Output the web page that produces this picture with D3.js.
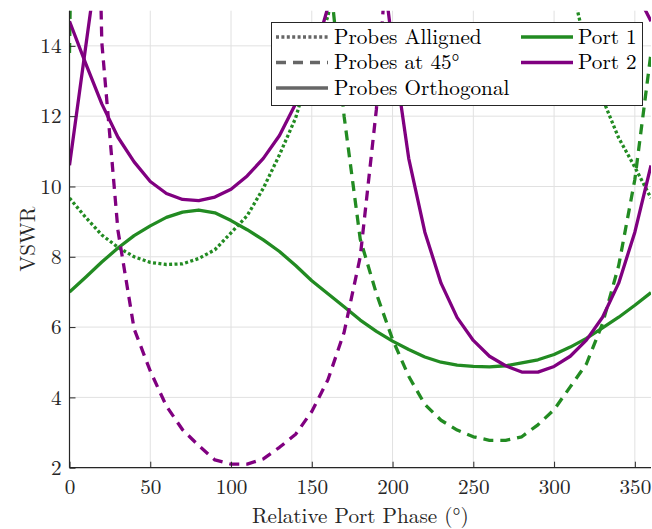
<!DOCTYPE html>
<html><head><meta charset="utf-8">
<script src="https://cdn.jsdelivr.net/npm/d3@7"></script>
<style>body{margin:0;background:#fff;}</style>
</head>
<body><svg id="c" width="652" height="529"></svg>
<script>
// ---------- data ----------
const phase = [0,10,20,30,40,50,60,70,80,90,100,110,120,130,140,150,160,170,180,190,200,210,220,230,240,250,260,270,280,290,300,310,320,330,340,350,360];
// Port 1
const port1Aligned = [9.67,9.12,8.62,8.27,8.0,7.84,7.78,7.8,7.95,8.2,8.68,9.17,9.95,10.9,11.95,13.5,14.85,17.0,19.5,23,26,28,29,29,28,26,24,22,20,18.5,17.2,15.9,13.9,12.5,11.38,10.55,9.67];
const port1At45 = [13.8,45,60,70,75,78,80,80,78,75,70,62,55,45,35,25,16.5,12.0,8.5,6.95,5.65,4.6,3.8,3.35,3.07,2.88,2.78,2.78,2.88,3.22,3.65,4.3,4.95,6.1,7.75,10.2,13.8];
const port1Ortho = [7.0,7.42,7.85,8.25,8.6,8.88,9.12,9.27,9.33,9.25,9.03,8.77,8.48,8.15,7.75,7.32,6.95,6.58,6.2,5.88,5.6,5.36,5.15,5.0,4.92,4.88,4.87,4.9,4.98,5.07,5.22,5.43,5.68,5.98,6.28,6.62,6.98];
// Port 2
const port2At45 = [60,35,14.1,8.75,5.95,4.75,3.75,3.08,2.63,2.22,2.1,2.1,2.25,2.58,2.95,3.6,4.5,5.85,8.0,12.2,19,30,40,50,55,60,62,64,65,66,66,65,64,63,62,61,60];
const port2OrthoA = [14.7,13.5,12.35,11.4,10.7,10.14,9.8,9.63,9.6,9.7,9.92,10.3,10.8,11.45,12.35,13.5,15.1,17,19,21,23,25,26,27,27,27,26,25,24,23,22,21,20,19,17,15.6,14.7];
const port2OrthoB = [10.6,13.97,17.3,21,24,27,29,30,31,31,30,29,28,27,26,25,24,22,20,17.7,14.0,10.8,8.7,7.25,6.27,5.62,5.17,4.9,4.72,4.72,4.88,5.17,5.63,6.28,7.25,8.7,10.6];

const xTicks = [0,50,100,150,200,250,300,350];
const yTicks = [2,4,6,8,10,12,14];
const styleLabels = ["Probes Alligned","Probes at 45°","Probes Orthogonal"];
const portLabels = ["Port 1","Port 2"];
const xLabel = "Relative Port Phase (°)";
const yLabel = "VSWR";

// ---------- styles ----------
const FONT = "'Latin Modern Roman','CMU Serif','Liberation Serif',serif";
const FS = 21.2;
const GREEN = "#228B22", PURPLE = "#800080";
const DOT = "3,2.4", DASH = "10,7";
const series = [
  {v: port1Aligned, c: GREEN, d: DOT},
  {v: port1At45, c: GREEN, d: DASH},
  {v: port1Ortho, c: GREEN, d: null},
  {v: port2At45, c: PURPLE, d: DASH},
  {v: port2OrthoA, c: PURPLE, d: null},
  {v: port2OrthoB, c: PURPLE, d: null}
];

const L = 69.5, R = 651, T = 10.7, B = 467.7;
const x = d3.scaleLinear().domain([0,360]).range([L,R]);
const y = d3.scaleLinear().domain([2,15]).range([B,T]);
const svg = d3.select("#c");

// grid
const grid = svg.append("g").attr("stroke","#e1e1e1").attr("stroke-width",1);
grid.selectAll(".gx").data(xTicks).join("line")
  .attr("x1",d=>x(d)).attr("x2",d=>x(d)).attr("y1",T).attr("y2",B);
grid.selectAll(".gy").data(yTicks).join("line")
  .attr("x1",L).attr("x2",R).attr("y1",d=>y(d)).attr("y2",d=>y(d));

svg.append("clipPath").attr("id","clip").append("rect")
  .attr("x",L).attr("y",T).attr("width",R-L).attr("height",B-T);

const line = d3.line().x((d,i)=>x(phase[i])).y(d=>y(d));
const lines = svg.append("g").attr("clip-path","url(#clip)");
series.forEach(s=>{
  lines.append("path").attr("d",line(s.v)).attr("fill","none")
    .attr("stroke",s.c).attr("stroke-width",3.3)
    .attr("stroke-dasharray",s.d).attr("stroke-linejoin","round");
});

// axes
const ax = svg.append("g").attr("transform",`translate(0,${B})`)
  .call(d3.axisBottom(x).tickValues(xTicks).tickSizeInner(-6).tickSizeOuter(0).tickPadding(11));
const ay = svg.append("g").attr("transform",`translate(${L},0)`)
  .call(d3.axisLeft(y).tickValues(yTicks).tickSizeInner(-6).tickSizeOuter(0).tickPadding(8));
[ax,ay].forEach(a=>{
  a.select(".domain").attr("stroke","#262626").attr("stroke-width",1.2);
  a.selectAll(".tick line").attr("stroke","#262626");
  a.selectAll(".tick text").attr("fill","#262626").attr("font-size",FS)
    .style("font-family",FONT);
});
ay.select(".domain").attr("d",`M0,${T}V${B}`);
ax.select(".domain").attr("d",`M${L},0H${R}`);

svg.append("text").attr("x",(L+R)/2).attr("y",523).attr("text-anchor","middle")
  .attr("font-size",FS).attr("fill","#262626").style("font-family",FONT).text(xLabel);
svg.append("text").attr("transform",`translate(35,${(T+B)/2}) rotate(-90)`)
  .attr("text-anchor","middle").attr("font-size",FS).attr("fill","#262626").style("font-family",FONT).text(yLabel);

// legend
const lg = svg.append("g");
lg.append("rect").attr("x",271.5).attr("y",22.5).attr("width",371).attr("height",83)
  .attr("fill","#fff").attr("stroke","#262626").attr("stroke-width",1);
const rowsY = [37,62.5,88];
const styleDash = [DOT, DASH, null];
styleLabels.forEach((t,i)=>{
  lg.append("line").attr("x1",276).attr("x2",328).attr("y1",rowsY[i]).attr("y2",rowsY[i])
    .attr("stroke","#666").attr("stroke-width",3.3).attr("stroke-dasharray",styleDash[i]);
  lg.append("text").attr("x",334).attr("y",rowsY[i]+6.5).attr("font-size",FS)
    .style("font-family",FONT).attr("fill","#000").text(t);
});
const portColors = [GREEN, PURPLE];
portLabels.forEach((t,i)=>{
  lg.append("line").attr("x1",521).attr("x2",573).attr("y1",rowsY[i]).attr("y2",rowsY[i])
    .attr("stroke",portColors[i]).attr("stroke-width",3.3);
  lg.append("text").attr("x",578).attr("y",rowsY[i]+6.5).attr("font-size",FS)
    .style("font-family",FONT).attr("fill","#000").text(t);
});
</script></body></html>
